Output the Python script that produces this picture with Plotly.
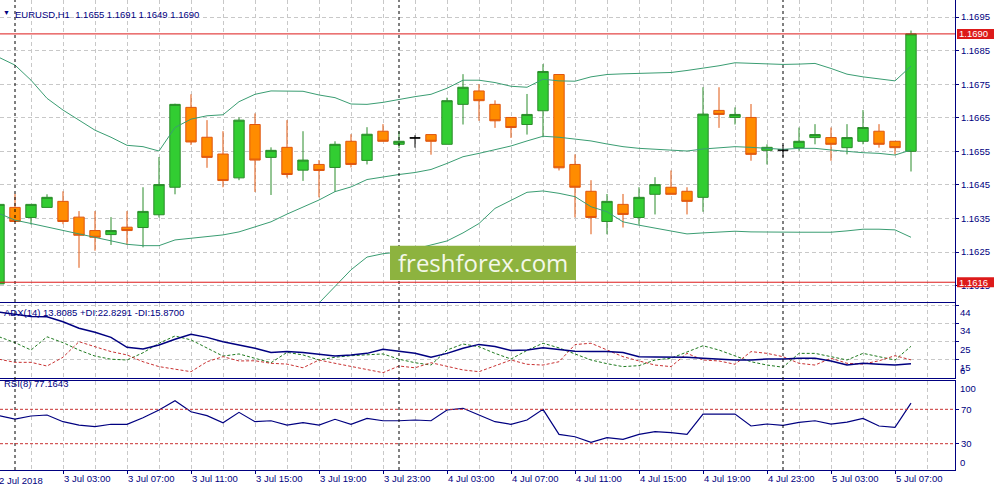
import pandas as pd
import plotly.graph_objects as go
from plotly.subplots import make_subplots

# EURUSD H1, 2 Jul 23:00 .. 5 Jul 08:00
times = pd.date_range("2018-07-02 23:00", periods=58, freq="h")

open_ = [1.16155, 1.16383, 1.16353, 1.16383, 1.16401, 1.16354, 1.16314, 1.16302, 1.16324, 1.16323,
         1.16361, 1.16443, 1.16681, 1.16592, 1.16542, 1.16471, 1.16630, 1.16532, 1.16562, 1.16494,
         1.16511, 1.16502, 1.16580, 1.16523, 1.16610, 1.16571, 1.16590, 1.16600, 1.16571, 1.16690,
         1.16730, 1.16690, 1.16651, 1.16630, 1.16671, 1.16779, 1.16511, 1.16431, 1.16341, 1.16392,
         1.16353, 1.16422, 1.16443, 1.16431, 1.16413, 1.16672, 1.16651, 1.16651, 1.16553, 1.16554,
         1.16561, 1.16591, 1.16591, 1.16561, 1.16580, 1.16610, 1.16580, 1.16550]
high = [1.16395, 1.16423, 1.16392, 1.16422, 1.16431, 1.16372, 1.16372, 1.16354, 1.16372, 1.16443,
        1.16533, 1.16692, 1.16720, 1.16643, 1.16610, 1.16651, 1.16663, 1.16562, 1.16643, 1.16610,
        1.16524, 1.16580, 1.16601, 1.16622, 1.16631, 1.16610, 1.16598, 1.16600, 1.16710, 1.16780,
        1.16750, 1.16702, 1.16651, 1.16721, 1.16810, 1.16779, 1.16541, 1.16464, 1.16423, 1.16423,
        1.16443, 1.16473, 1.16493, 1.16443, 1.16741, 1.16741, 1.16681, 1.16691, 1.16571, 1.16569,
        1.16621, 1.16631, 1.16621, 1.16631, 1.16673, 1.16631, 1.16580, 1.16910]
low = [1.16140, 1.16341, 1.16332, 1.16383, 1.16333, 1.16203, 1.16254, 1.16271, 1.16271, 1.16264,
       1.16353, 1.16422, 1.16569, 1.16501, 1.16443, 1.16464, 1.16429, 1.16420, 1.16472, 1.16462,
       1.16413, 1.16429, 1.16502, 1.16511, 1.16580, 1.16559, 1.16561, 1.16540, 1.16571, 1.16630,
       1.16641, 1.16620, 1.16590, 1.16600, 1.16592, 1.16493, 1.16353, 1.16303, 1.16303, 1.16323,
       1.16332, 1.16362, 1.16422, 1.16362, 1.16370, 1.16620, 1.16630, 1.16522, 1.16511, 1.16534,
       1.16552, 1.16571, 1.16522, 1.16541, 1.16571, 1.16561, 1.16541, 1.16490]
close = [1.16392, 1.16341, 1.16392, 1.16413, 1.16341, 1.16300, 1.16294, 1.16314, 1.16314, 1.16371,
         1.16451, 1.16690, 1.16578, 1.16532, 1.16463, 1.16643, 1.16524, 1.16553, 1.16481, 1.16524,
         1.16493, 1.16571, 1.16511, 1.16601, 1.16580, 1.16580, 1.16590, 1.16580, 1.16701, 1.16741,
         1.16701, 1.16641, 1.16621, 1.16660, 1.16788, 1.16501, 1.16443, 1.16353, 1.16401, 1.16362,
         1.16413, 1.16451, 1.16422, 1.16401, 1.16661, 1.16660, 1.16660, 1.16541, 1.16562, 1.16554,
         1.16580, 1.16600, 1.16571, 1.16591, 1.16621, 1.16571, 1.16561, 1.16900]

# Bollinger bands
bb_upper = [1.16830, 1.16807, 1.16762, 1.16708, 1.16673, 1.16643, 1.16613, 1.16592, 1.16568, 1.16564,
            1.16551, 1.16621, 1.16646, 1.16656, 1.16659, 1.16698, 1.16720, 1.16730, 1.16730, 1.16729,
            1.16718, 1.16710, 1.16691, 1.16690, 1.16696, 1.16705, 1.16713, 1.16720, 1.16738, 1.16762,
            1.16762, 1.16755, 1.16744, 1.16741, 1.16765, 1.16760, 1.16759, 1.16772, 1.16779, 1.16781,
            1.16783, 1.16784, 1.16785, 1.16791, 1.16797, 1.16805, 1.16814, 1.16812, 1.16811, 1.16809,
            1.16810, 1.16812, 1.16797, 1.16780, 1.16772, 1.16765, 1.16760, 1.16804]
bb_mid = [1.16365, 1.16345, 1.16335, 1.16325, 1.16313, 1.16304, 1.16293, 1.16284, 1.16273, 1.16269,
          1.16269, 1.16286, 1.16291, 1.16296, 1.16301, 1.16310, 1.16325, 1.16340, 1.16363, 1.16385,
          1.16405, 1.16430, 1.16444, 1.16466, 1.16474, 1.16481, 1.16487, 1.16496, 1.16514, 1.16534,
          1.16544, 1.16556, 1.16566, 1.16581, 1.16595, 1.16592, 1.16586, 1.16581, 1.16572, 1.16564,
          1.16559, 1.16557, 1.16554, 1.16551, 1.16557, 1.16561, 1.16564, 1.16562, 1.16559, 1.16556,
          1.16559, 1.16559, 1.16554, 1.16549, 1.16546, 1.16544, 1.16539, 1.16554]
bb_lower = [1.15901, 1.15884, 1.15909, 1.15943, 1.15954, 1.15964, 1.15972, 1.15976, 1.15978, 1.15974,
            1.15987, 1.15948, 1.15935, 1.15935, 1.15942, 1.15923, 1.15931, 1.15950, 1.15996, 1.16040,
            1.16098, 1.16147, 1.16197, 1.16235, 1.16245, 1.16250, 1.16259, 1.16271, 1.16283, 1.16307,
            1.16335, 1.16380, 1.16405, 1.16428, 1.16432, 1.16425, 1.16415, 1.16385, 1.16370, 1.16340,
            1.16330, 1.16321, 1.16313, 1.16304, 1.16307, 1.16309, 1.16312, 1.16310, 1.16309, 1.16309,
            1.16309, 1.16309, 1.16309, 1.16313, 1.16318, 1.16318, 1.16316, 1.16294]

# ADX(14)
adx = [40.4, 39.4, 38.1, 38.0, 35.4, 32.1, 30.0, 27.4, 22.3, 21.4,
       23.5, 26.4, 29.0, 27.4, 25.2, 23.5, 21.8, 19.7, 20.1, 19.7,
       18.6, 17.8, 18.4, 19.2, 21.3, 20.4, 19.2, 17.2, 19.2, 21.8,
       23.8, 22.7, 20.7, 20.9, 22.1, 21.2, 20.3, 20.2, 20.2, 19.6,
       17.5, 17.3, 17.3, 17.2, 16.7, 16.3, 15.8, 15.8, 16.3, 16.3,
       16.7, 16.7, 15.3, 13.2, 14.1, 13.6, 13.2, 13.81]
plus_di = [27.7, 24.7, 20.9, 27.7, 24.7, 20.9, 17.8, 16.2, 15.8, 19.5,
           24.4, 28.1, 26.1, 21.8, 17.8, 18.9, 16.7, 14.4, 19.7, 18.4,
           15.8, 17.2, 18.0, 18.4, 18.9, 16.2, 14.4, 13.2, 20.9, 24.0,
           22.6, 19.2, 16.3, 20.7, 24.4, 22.0, 18.7, 15.8, 13.9, 12.4,
           12.9, 15.8, 16.7, 20.1, 23.1, 20.9, 17.8, 14.9, 13.2, 12.1,
           19.2, 19.2, 17.5, 15.8, 19.2, 17.5, 15.8, 22.83]
minus_di = [16.2, 14.6, 14.6, 12.7, 17.2, 25.2, 22.6, 20.1, 18.4, 14.9,
            12.4, 11.0, 9.8, 14.9, 17.5, 15.3, 15.4, 14.1, 13.7, 11.8,
            15.8, 14.1, 12.4, 10.7, 9.3, 12.7, 11.8, 14.4, 12.4, 10.7,
            9.8, 12.7, 15.8, 13.6, 13.2, 14.9, 23.7, 24.4, 20.9, 17.5,
            15.3, 13.2, 12.4, 19.2, 15.8, 15.3, 13.6, 20.1, 19.2, 17.5,
            14.1, 13.2, 16.7, 14.1, 13.7, 15.4, 18.0, 15.87]

# RSI(8)
rsi = [62.6, 58.7, 62.2, 63.4, 55.6, 51.7, 49.8, 52.6, 52.6, 60.2,
       69.2, 80.0, 67.2, 62.6, 54.4, 66.5, 55.6, 56.7, 51.7, 54.4,
       51.7, 58.4, 52.6, 59.5, 56.7, 56.7, 57.6, 56.7, 69.2, 71.2,
       63.4, 55.6, 52.6, 57.6, 70.0, 40.9, 38.1, 31.6, 37.0, 35.1,
       40.9, 44.0, 42.8, 40.9, 64.5, 64.5, 64.5, 50.6, 52.9, 51.4,
       54.9, 56.7, 52.9, 55.2, 59.5, 50.6, 49.1, 77.16]

tick_times = pd.date_range("2018-07-03 03:00", "2018-07-05 07:00", freq="4h")
tick_text = ["3 Jul 03:00", "3 Jul 07:00", "3 Jul 11:00", "3 Jul 15:00", "3 Jul 19:00",
             "3 Jul 23:00", "4 Jul 03:00", "4 Jul 07:00", "4 Jul 11:00", "4 Jul 15:00",
             "4 Jul 19:00", "4 Jul 23:00", "5 Jul 03:00", "5 Jul 07:00"]
day_starts = ["2018-07-03 00:00", "2018-07-04 00:00", "2018-07-05 00:00"]
price_ticks = [1.1615, 1.1625, 1.1635, 1.1645, 1.1655, 1.1665, 1.1675, 1.1685, 1.1695]
adx_ticks = [44, 34.6, 25.2, 15.8]
adx_labels = ["44", "34", "25", "15"]
levels = [1.1690, 1.1616]
rsi_levels = [70, 30]

NAVY = "#000080"
GRID = "#c8c8c8"
RED = "#dd1a1a"
BAND = "#3a9d72"
FONT = "Liberation Sans, Arial, sans-serif"

x_range = ["2018-07-02 23:03:45", "2018-07-05 10:45:00"]

fig = make_subplots(rows=3, cols=1, shared_xaxes=True, vertical_spacing=0.01)

for band in (bb_upper, bb_mid, bb_lower):
    fig.add_trace(go.Scatter(x=times, y=band, mode="lines",
                             line=dict(color=BAND, width=1)), row=1, col=1)

up = [c > o for o, c in zip(open_, close)]
down = [c < o for o, c in zip(open_, close)]
flat = [c == o for o, c in zip(open_, close)]


def pick(vals, mask):
    return [v if m else None for v, m in zip(vals, mask)]


styles = [(up, "#2a8c2a", "#32cd32"), (down, "#e0560f", "#ff8c00"), (flat, "#000000", "#000000")]
for mask, edge, fill in styles:
    fig.add_trace(go.Candlestick(
        x=times, open=pick(open_, mask), high=pick(high, mask),
        low=pick(low, mask), close=pick(close, mask),
        increasing=dict(line=dict(color=edge, width=1), fillcolor=fill),
        decreasing=dict(line=dict(color=edge, width=1), fillcolor=fill),
    ), row=1, col=1)

fig.add_trace(go.Scatter(x=times, y=plus_di, mode="lines",
                         line=dict(color="#1f7a1f", width=1, dash="3px,2px")), row=2, col=1)
fig.add_trace(go.Scatter(x=times, y=minus_di, mode="lines",
                         line=dict(color="#c83232", width=1, dash="3px,2px")), row=2, col=1)
fig.add_trace(go.Scatter(x=times, y=adx, mode="lines",
                         line=dict(color=NAVY, width=1.5)), row=2, col=1)

fig.add_trace(go.Scatter(x=times, y=rsi, mode="lines",
                         line=dict(color=NAVY, width=1.2)), row=3, col=1)

shapes = []
# day separators, through all three panes
for d in day_starts:
    shapes.append(dict(type="line", xref="x3", yref="paper", x0=d, x1=d, y0=0, y1=1,
                       line=dict(color="#000000", width=1, dash="3px,3px"), layer="above"))
for lv in rsi_levels:
    shapes.append(dict(type="line", xref="x3 domain", yref="y3", x0=0, x1=1, y0=lv, y1=lv,
                       line=dict(color="#c83232", width=1, dash="3px,2px")))
for lv in levels:
    shapes.append(dict(type="line", xref="x domain", yref="y", x0=0, x1=1, y0=lv, y1=lv,
                       line=dict(color=RED, width=1)))
    # red price label on the axis
    shapes.append(dict(type="rect", xref="paper", xsizemode="pixel", xanchor=1, x0=2, x1=39,
                       yref="y", ysizemode="pixel", yanchor=lv, y0=-5, y1=5,
                       fillcolor=RED, line=dict(width=0), layer="above"))
# watermark box
shapes.append(dict(type="rect", xref="paper", yref="paper",
                   x0=390 / 955, x1=576 / 955, y0=190 / 470, y1=224.3 / 470,
                   fillcolor="#8db33f", line=dict(width=0), layer="above"))

ann = []
for lv in levels:
    ann.append(dict(xref="paper", x=1, xanchor="left", xshift=3, yref="y", y=lv,
                    text=f"{lv:.4f}", showarrow=False, borderpad=0,
                    font=dict(color="white", size=9.5, family=FONT)))
ann.append(dict(xref="paper", yref="paper", x=483 / 955, y=207.5 / 470, text="freshforex.com",
                showarrow=False, font=dict(family="Open Sans", size=24, color="#f4f8ea")))
ann.append(dict(xref="paper", yref="paper", x=0, xshift=1, y=463 / 470, xanchor="left",
                text="▼", showarrow=False, font=dict(size=7, color=NAVY)))
ann.append(dict(xref="paper", yref="paper", x=0, xshift=13, y=463 / 470, xanchor="left",
                text="EURUSD,H1  1.1655 1.1691 1.1649 1.1690", showarrow=False))
ann.append(dict(xref="paper", yref="paper", x=0, xshift=2, y=157.5 / 470, xanchor="left",
                text="ADX(14) 13.8085 +DI:22.8291 -DI:15.8700", showarrow=False))
ann.append(dict(xref="paper", yref="paper", x=0, xshift=2, y=79 / 470, xanchor="left",
                text="RSI(8) 77.1643", showarrow=False))
ann.append(dict(xref="paper", yref="paper", x=0, xshift=-3, y=0, yanchor="top", yshift=-3,
                xanchor="left", text="2 Jul 2018", showarrow=False))
# ADX scale labels
for v, t in zip(adx_ticks, adx_labels):
    ann.append(dict(xref="paper", x=1, xanchor="left", xshift=3, yref="y2", y=min(v, 44.87),
                    yanchor="top", text=t, showarrow=False))
ann.append(dict(xref="paper", x=1, xanchor="left", xshift=3, yref="y2", y=6.41,
                yanchor="bottom", text="6", showarrow=False))
ann.append(dict(xref="paper", x=1, xanchor="left", xshift=3, yref="y3", y=103.3,
                yanchor="top", text="100", showarrow=False))
ann.append(dict(xref="paper", x=1, xanchor="left", xshift=3, yref="y3", y=-0.6,
                yanchor="bottom", text="0", showarrow=False))

fig.update_layout(
    width=997, height=491, margin=dict(l=0, r=42, t=0, b=21),
    paper_bgcolor="white", plot_bgcolor="white", showlegend=False, hovermode=False,
    font=dict(family=FONT, size=9.5, color=NAVY),
    boxgap=0.35, boxgroupgap=0,
    shapes=shapes, annotations=ann,
)

xcommon = dict(type="date", range=x_range, showgrid=True, gridcolor=GRID, griddash="4px,3px",
               gridwidth=1, tickvals=tick_times, ticktext=tick_text, showline=True,
               linecolor=NAVY, linewidth=1, zeroline=False,
               minor=dict(showgrid=True, gridcolor=GRID, griddash="4px,3px",
                          tick0="2018-07-02 23:00", dtick=7200000))
fig.update_xaxes(**xcommon)
fig.update_xaxes(rangeslider_visible=False, mirror=False, row=1, col=1)
fig.update_xaxes(mirror=True, row=2, col=1)
fig.update_xaxes(mirror=True, ticks="outside", ticklen=3, tickcolor=NAVY,
                 ticklabelposition="outside right", showticklabels=True, row=3, col=1)

ycommon = dict(side="right", showline=True, linecolor=NAVY, linewidth=1, ticks="outside",
               ticklen=3, tickcolor=NAVY, zeroline=False, gridcolor=GRID, griddash="4px,3px")
fig.update_yaxes(**ycommon)
fig.update_yaxes(domain=[168.3 / 470, 1.0], range=[1.16102, 1.17001], tickvals=price_ticks,
                 tickformat=".4f", showgrid=True, row=1, col=1)
fig.update_yaxes(domain=[91.7 / 470, 166.7 / 470], range=[6.41, 44.87], tickvals=adx_ticks,
                 showticklabels=False, showgrid=True, row=2, col=1)
fig.update_yaxes(domain=[0, 89.3 / 470], range=[-0.6, 103.3], tickvals=rsi_levels,
                 showgrid=False, row=3, col=1)

fig.write_html("out.html", config={"displayModeBar": False},
               post_script="document.body.style.margin='0px';")
